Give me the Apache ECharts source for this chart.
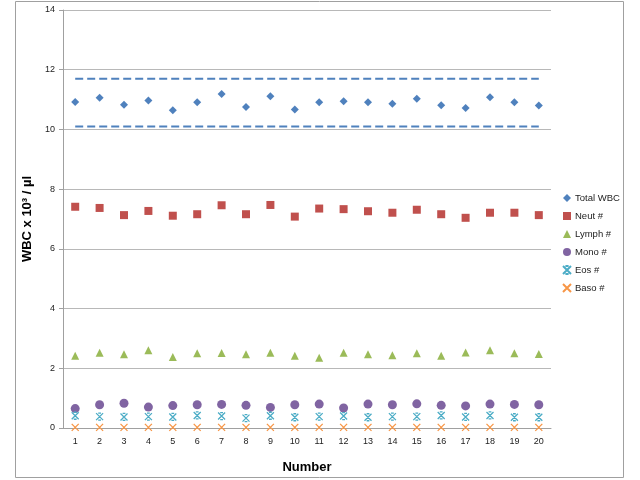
<!DOCTYPE html>
<html>
<head>
<meta charset="utf-8">
<script src="https://cdn.jsdelivr.net/npm/echarts@6/dist/echarts.min.js"></script>
<style>
html, body { margin: 0; padding: 0; background: #fff; }
#chart { width: 640px; height: 480px; }
</style>
</head>
<body>
<div id="chart"></div>
<script>
let categories = ['1', '2', '3', '4', '5', '6', '7', '8', '9', '10', '11', '12', '13', '14', '15', '16', '17', '18', '19', '20']

let totalWbc = [10.92, 11.06, 10.83, 10.97, 10.64, 10.91, 11.19, 10.75, 11.11, 10.67, 10.91, 10.94, 10.91, 10.86, 11.03, 10.81, 10.72, 11.08, 10.91, 10.80]
let neut = [7.41, 7.37, 7.13, 7.27, 7.11, 7.16, 7.46, 7.16, 7.47, 7.08, 7.35, 7.33, 7.26, 7.21, 7.31, 7.16, 7.04, 7.21, 7.21, 7.13]
let lymph = [2.42, 2.52, 2.47, 2.60, 2.38, 2.50, 2.51, 2.47, 2.52, 2.42, 2.35, 2.52, 2.47, 2.44, 2.50, 2.42, 2.53, 2.60, 2.50, 2.48]
let mono = [0.65, 0.78, 0.83, 0.70, 0.75, 0.78, 0.79, 0.76, 0.69, 0.78, 0.80, 0.67, 0.80, 0.78, 0.81, 0.76, 0.74, 0.80, 0.79, 0.78]
let eos = [0.41, 0.38, 0.37, 0.38, 0.37, 0.42, 0.40, 0.33, 0.41, 0.36, 0.38, 0.40, 0.36, 0.38, 0.38, 0.42, 0.37, 0.42, 0.36, 0.36]
let baso = [0.02, 0.02, 0.02, 0.02, 0.02, 0.02, 0.02, 0.02, 0.02, 0.02, 0.02, 0.02, 0.02, 0.02, 0.02, 0.02, 0.02, 0.02, 0.02, 0.02]

// reference range of the total count (dashed lines)
let refHigh = 11.7
let refLow = 10.1

let yTicks = { min: 0, max: 14, interval: 2 }

let font = 'Liberation Sans'
let xMark = 'path://M0,0L10,10M10,0L0,10'
let starMark = 'path://M0,0L10,10M10,0L0,10M3,0L7,0M3,10L7,10'

let scatter = (name, data, symbol, size, color, stroke) => {
	let s = {
		name: name,
		type: 'scatter',
		data: data,
		symbol: symbol,
		symbolSize: size,
		itemStyle: { color: color, opacity: 1 }
	}
	if (stroke) {
		s.itemStyle = { color: 'rgba(0,0,0,0)', borderColor: color, borderWidth: 1.3, opacity: 1 }
	}
	return s
}

let refLine = (value) => ({
	type: 'line',
	data: categories.map(() => value),
	symbol: 'none',
	silent: true,
	lineStyle: { color: '#4f81bd', width: 2, type: [8, 4] }
})

let chart = echarts.init(document.getElementById('chart'))
chart.setOption({
	animation: false,
	textStyle: { fontFamily: font },
	graphic: [{
		type: 'rect',
		shape: { x: 15.5, y: 1.5, width: 608, height: 476 },
		style: { fill: 'none', stroke: '#a0a0a0', lineWidth: 1 },
		silent: true
	}],
	grid: { left: 63, right: 89, top: 10, bottom: 52 },
	legend: {
		orient: 'vertical',
		left: 557,
		top: 188,
		itemWidth: 8,
		itemHeight: 8,
		itemGap: 8,
		textStyle: { fontSize: 9.5, color: '#222', fontFamily: font, padding: [0, 0, 0, -1] },
		data: ['Total WBC', 'Neut #', 'Lymph #', 'Mono #', 'Eos #', 'Baso #']
	},
	xAxis: {
		type: 'category',
		data: categories,
		name: 'Number',
		nameLocation: 'middle',
		nameGap: 33,
		nameTextStyle: { fontSize: 13, fontWeight: 'bold', color: '#000' },
		axisLine: { lineStyle: { color: '#a0a0a0' } },
		axisTick: { length: 4, lineStyle: { color: '#a0a0a0' } },
		axisLabel: { fontSize: 9, color: '#222', margin: 9 }
	},
	yAxis: {
		type: 'value',
		min: yTicks.min,
		max: yTicks.max,
		interval: yTicks.interval,
		name: 'WBC x 10³ / µl',
		nameLocation: 'middle',
		nameGap: 28,
		nameTextStyle: { fontSize: 13, fontWeight: 'bold', color: '#000' },
		axisLine: { show: true, lineStyle: { color: '#a0a0a0' } },
		axisTick: { show: true, length: 4, lineStyle: { color: '#a0a0a0' } },
		axisLabel: { fontSize: 9, color: '#222', margin: 8 },
		splitLine: { lineStyle: { color: '#b8b8b8' } }
	},
	series: [
		refLine(refHigh),
		refLine(refLow),
		scatter('Total WBC', totalWbc, 'diamond', 8, '#4f81bd'),
		scatter('Neut #', neut, 'rect', 8, '#c0504d'),
		scatter('Lymph #', lymph, 'triangle', 8, '#9bbb59'),
		scatter('Mono #', mono, 'circle', 9, '#8064a2'),
		scatter('Eos #', eos, starMark, 7, '#4bacc6', true),
		scatter('Baso #', baso, xMark, 7, '#f79646', true)
	]
})
</script>
</body>
</html>
